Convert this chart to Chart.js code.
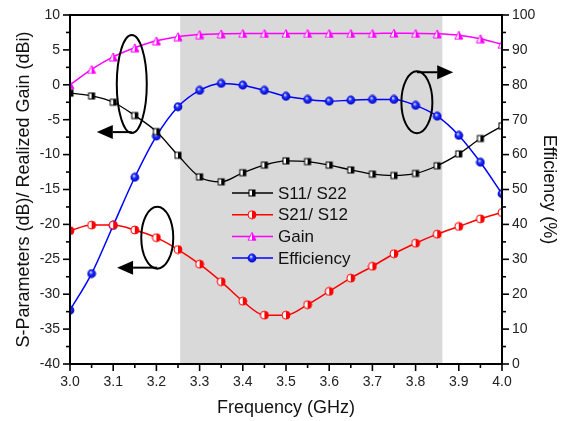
<!DOCTYPE html>
<html>
<head>
<meta charset="utf-8">
<script src="https://cdn.jsdelivr.net/npm/chart.js@4"></script>
<style>
  html, body { margin: 0; padding: 0; background: #fff; }
  #wrap { width: 563px; height: 421px; }
</style>
</head>
<body>
<div id="wrap"><canvas id="chart" width="563" height="421"></canvas></div>
<script>
// Frequency points (GHz)
const freq = [3.0, 3.05, 3.1, 3.15, 3.2, 3.25, 3.3, 3.35, 3.4, 3.45, 3.5, 3.55, 3.6, 3.65, 3.7, 3.75, 3.8, 3.85, 3.9, 3.95, 4.0];

// S-parameters and gain (dB / dBi, left axis)
const s11 = [-1.2, -1.6, -2.5, -4.4, -6.7, -10.1, -13.2, -13.9, -12.6, -11.5, -10.9, -11.0, -11.5, -12.2, -12.8, -13.0, -12.7, -11.6, -9.9, -7.7, -5.9];
const s21 = [-20.9, -20.1, -20.1, -20.8, -21.9, -23.6, -25.7, -28.2, -31.0, -33.0, -33.0, -31.5, -29.6, -27.7, -26.0, -24.2, -22.7, -21.4, -20.3, -19.2, -18.3];
const gain = [0, 2.2, 4.0, 5.3, 6.3, 6.9, 7.2, 7.3, 7.35, 7.35, 7.35, 7.35, 7.35, 7.35, 7.35, 7.4, 7.35, 7.3, 7.1, 6.6, 5.8];

// Efficiency (%, right axis)
const efficiency = [15.4, 25.9, 39.7, 53.5, 65.3, 73.7, 78.4, 80.4, 79.9, 78.4, 76.7, 75.8, 75.3, 75.6, 75.8, 75.8, 74.1, 71.0, 65.5, 57.8, 48.8];

const seriesNames = ['S11/ S22', 'S21/ S12', 'Gain', 'Efficiency'];

// Tick labels
const xTicks = [3.0, 3.1, 3.2, 3.3, 3.4, 3.5, 3.6, 3.7, 3.8, 3.9, 4.0];
const leftTicks = [-40, -35, -30, -25, -20, -15, -10, -5, 0, 5, 10];
const rightTicks = [0, 10, 20, 30, 40, 50, 60, 70, 80, 90, 100];

// Shaded operating band (GHz)
const band = [3.255, 3.862];

const FONT = 'Liberation Sans, Arial, sans-serif';

// marker images
function makeMarker(kind, color) {
    const c = document.createElement('canvas');
    c.width = 10; c.height = 10;
    const g = c.getContext('2d');
    g.lineWidth = 1;
    if (kind === 'square') {
        g.fillStyle = '#fff';
        g.fillRect(2, 2, 6, 6);
        g.fillStyle = color;
        g.fillRect(5, 2, 3, 6);
        g.strokeStyle = color;
        g.strokeRect(2, 2, 6, 6);
    } else if (kind === 'halfcircle') {
        g.beginPath(); g.arc(5, 5, 4, 0, Math.PI * 2);
        g.fillStyle = '#fff'; g.fill();
        g.beginPath(); g.arc(5, 5, 4, -Math.PI / 2, Math.PI / 2);
        g.closePath(); g.fillStyle = color; g.fill();
        g.beginPath(); g.arc(5, 5, 4, 0, Math.PI * 2);
        g.strokeStyle = color; g.stroke();
    } else if (kind === 'triangle') {
        g.beginPath(); g.moveTo(5, 1); g.lineTo(9, 9); g.lineTo(1, 9); g.closePath();
        g.fillStyle = '#fff'; g.fill();
        g.beginPath(); g.moveTo(5, 1); g.lineTo(9, 9); g.lineTo(5, 9); g.closePath();
        g.fillStyle = color; g.fill();
        g.beginPath(); g.moveTo(5, 1); g.lineTo(9, 9); g.lineTo(1, 9); g.closePath();
        g.strokeStyle = color; g.stroke();
    } else {
        const grd = g.createRadialGradient(4, 3.5, 0.5, 5, 5, 4.6);
        grd.addColorStop(0, '#c8d0ff');
        grd.addColorStop(0.35, '#2030ff');
        grd.addColorStop(1, '#0000c0');
        g.beginPath(); g.arc(5, 5, 4.4, 0, Math.PI * 2);
        g.fillStyle = grd; g.fill();
    }
    return c;
}

const markers = [
    makeMarker('square', '#000'),
    makeMarker('halfcircle', '#ff0000'),
    makeMarker('triangle', '#ff00ff'),
    makeMarker('sphere', '#0000ff')
];
const colors = ['#000000', '#ff0000', '#ff00ff', '#0000ff'];

function pts(arr) {
    return freq.map((f, i) => ({ x: f, y: arr[i] }));
}

// shaded band behind the curves
const bandPlugin = {
    id: 'band',
    beforeDatasetsDraw(chart) {
        const { ctx, chartArea, scales } = chart;
        const x1 = scales.x.getPixelForValue(band[0]);
        const x2 = scales.x.getPixelForValue(band[1]);
        ctx.save();
        ctx.fillStyle = '#d9d9d9';
        ctx.fillRect(x1, chartArea.top, x2 - x1, chartArea.bottom - chartArea.top);
        ctx.restore();
    }
};

// frame, major and minor ticks
const framePlugin = {
    id: 'frame',
    afterDraw(chart) {
        const { ctx, chartArea: a, scales } = chart;
        ctx.save();
        ctx.strokeStyle = '#000';
        ctx.lineWidth = 1.6;
        function tick(scale, vals, side) {
            vals.forEach((v, i) => {
                const p = scale.getPixelForValue(v);
                ctx.beginPath();
                if (side === 'left') { ctx.moveTo(a.left - 7, p); ctx.lineTo(a.left, p); }
                if (side === 'right') { ctx.moveTo(a.right, p); ctx.lineTo(a.right + 7, p); }
                if (side === 'bottom') { ctx.moveTo(p, a.bottom); ctx.lineTo(p, a.bottom + 7); }
                ctx.stroke();
                if (i < vals.length - 1) {
                    const m = scale.getPixelForValue((v + vals[i + 1]) / 2);
                    ctx.beginPath();
                    if (side === 'left') { ctx.moveTo(a.left - 4, m); ctx.lineTo(a.left, m); }
                    if (side === 'right') { ctx.moveTo(a.right, m); ctx.lineTo(a.right + 4, m); }
                    if (side === 'bottom') { ctx.moveTo(m, a.bottom); ctx.lineTo(m, a.bottom + 4); }
                    ctx.stroke();
                }
            });
        }
        tick(scales.y, leftTicks, 'left');
        tick(scales.y1, rightTicks, 'right');
        tick(scales.x, xTicks, 'bottom');
        ctx.lineWidth = 2;
        ctx.strokeRect(a.left, a.top, a.right - a.left, a.bottom - a.top);
        ctx.restore();
    }
};

// ellipses with arrows pointing to the axis they belong to
const callouts = [
    { x: 3.143, y: 0.1, rx: 15, ry: 49, from: 'bottom', tipX: 3.062 },
    { x: 3.202, y: -21.9, rx: 16, ry: 31, from: 'bottom', tipX: 3.109 },
    { x: 3.803, y: -2.5, rx: 15.5, ry: 31, from: 'top', tipX: 3.887 }
];

const calloutPlugin = {
    id: 'callouts',
    afterDatasetsDraw(chart) {
        const { ctx, scales } = chart;
        ctx.save();
        ctx.strokeStyle = '#000';
        ctx.fillStyle = '#000';
        ctx.lineWidth = 2;
        callouts.forEach(c => {
            const cx = scales.x.getPixelForValue(c.x);
            const cy = scales.y.getPixelForValue(c.y);
            ctx.beginPath();
            ctx.ellipse(cx, cy, c.rx, c.ry, 0, 0, Math.PI * 2);
            ctx.stroke();
            const ay = c.from === 'bottom' ? cy + c.ry - 1 : cy - c.ry + 1;
            const tx = scales.x.getPixelForValue(c.tipX);
            const dir = tx < cx ? -1 : 1;
            const base = tx - dir * 16;
            ctx.beginPath();
            ctx.moveTo(cx, ay);
            ctx.lineTo(base, ay);
            ctx.stroke();
            ctx.beginPath();
            ctx.moveTo(tx, ay);
            ctx.lineTo(base, ay - 7);
            ctx.lineTo(base, ay + 7);
            ctx.closePath();
            ctx.fill();
        });
        ctx.restore();
    }
};

// legend inside the plot
const legendPlugin = {
    id: 'innerLegend',
    afterDraw(chart) {
        const { ctx } = chart;
        ctx.save();
        ctx.font = '17px ' + FONT;
        ctx.textBaseline = 'middle';
        seriesNames.forEach((name, i) => {
            const y = 193 + i * 21.7;
            ctx.strokeStyle = colors[i];
            ctx.lineWidth = 1.5;
            ctx.beginPath();
            ctx.moveTo(232, y);
            ctx.lineTo(273, y);
            ctx.stroke();
            ctx.drawImage(markers[i], 247, y - 5);
            ctx.fillStyle = '#111';
            ctx.fillText(name, 278, y + 1);
        });
        ctx.restore();
    }
};

const tickFont = { family: FONT, size: 14 };
const titleFont = { family: FONT, size: 18 };

const ctx = document.getElementById('chart').getContext('2d');
const chart = new Chart(ctx, {
    type: 'line',
    data: {
        datasets: [s11, s21, gain, efficiency].map((arr, i) => ({
            label: seriesNames[i],
            data: pts(arr),
            yAxisID: i === 3 ? 'y1' : 'y',
            borderColor: colors[i],
            backgroundColor: colors[i],
            borderWidth: i === 0 ? 1.3 : 1.5,
            pointStyle: markers[i],
            pointRadius: 4,
            cubicInterpolationMode: 'monotone',
            fill: false
        }))
    },
    options: {
        responsive: false,
        devicePixelRatio: 1,
        animation: false,
        layout: { padding: { top: 15, left: 0, right: 0, bottom: 0 } },
        plugins: {
            legend: { display: false },
            tooltip: { enabled: false }
        },
        scales: {
            x: {
                type: 'linear',
                position: 'bottom',
                min: 3.0,
                max: 4.0,
                afterBuildTicks: s => { s.ticks = xTicks.map(v => ({ value: v })); },
                afterFit: s => { s.height = 57; },
                ticks: { callback: v => v.toFixed(1), font: tickFont, color: '#222', padding: 3, maxRotation: 0 },
                grid: { drawOnChartArea: false, color: 'transparent', tickColor: 'transparent', tickLength: 7 },
                border: { display: false },
                title: { display: true, text: 'Frequency (GHz)', font: titleFont, color: '#111', padding: { top: 0, bottom: 2 } }
            },
            y: {
                position: 'left',
                min: -40,
                max: 10,
                afterBuildTicks: s => { s.ticks = leftTicks.map(v => ({ value: v })); },
                afterFit: s => { s.width = 70; },
                ticks: { font: tickFont, color: '#222', padding: 3 },
                grid: { drawOnChartArea: false, color: 'transparent', tickColor: 'transparent', tickLength: 7 },
                border: { display: false },
                title: { display: true, text: 'S-Parameters (dB)/ Realized Gain (dBi)', font: titleFont, color: '#111', padding: { top: 13, bottom: 0 } }
            },
            y1: {
                position: 'right',
                min: 0,
                max: 100,
                afterBuildTicks: s => { s.ticks = rightTicks.map(v => ({ value: v })); },
                afterFit: s => { s.width = 61; },
                ticks: { font: tickFont, color: '#222', padding: 3 },
                grid: { drawOnChartArea: false, color: 'transparent', tickColor: 'transparent', tickLength: 7 },
                border: { display: false },
                title: { display: true, text: 'Efficiency (%)', font: titleFont, color: '#111', padding: { top: 3, bottom: 0 } }
            }
        }
    },
    plugins: [bandPlugin, calloutPlugin, framePlugin, legendPlugin]
});
</script>
</body>
</html>
